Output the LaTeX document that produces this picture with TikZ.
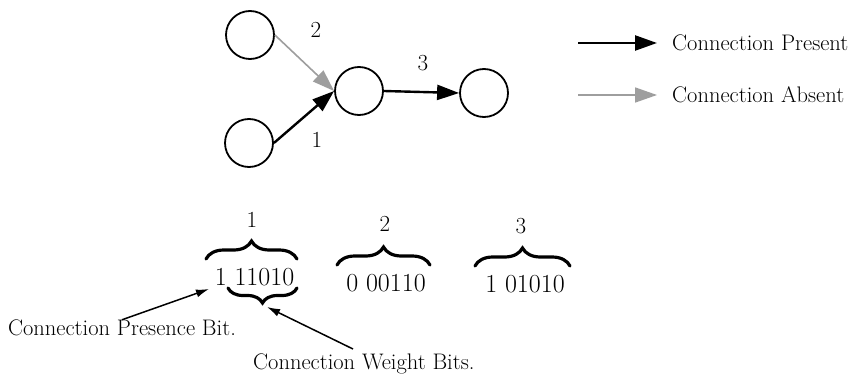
\documentclass[tikz,border=0pt]{standalone}
\usetikzlibrary{arrows.meta,decorations.pathreplacing}
\begin{document}
\begin{tikzpicture}[x=1pt,y=-1pt,
  neuron/.style={circle,draw,line width=1.8pt,minimum size=48pt,inner sep=0pt},
  conn/.style={line width=2.4pt,-{Triangle[length=22pt,width=15pt]}},
  absent/.style={line width=1.6pt,draw=black!38,-{Triangle[length=22pt,width=15pt,fill=black!38]}},
  lbl/.style={font=\fontsize{23}{26}\selectfont,inner sep=0pt},
  txt/.style={font=\fontsize{22.5}{26}\selectfont,inner sep=0pt},
  bits/.style={font=\fontsize{26}{30}\selectfont,inner sep=0pt},
  bigbrace/.style={decorate,decoration={brace,amplitude=18pt},line width=3.2pt,line cap=round},
  note/.style={line width=1.5pt,-{Latex[length=13pt,width=8pt]}}
]
\fill[white] (0,0) rectangle (856,377);
\useasboundingbox (0,0) rectangle (856,377);
% network
\node[neuron] (n2) at (250,35) {};
\node[neuron] (n1) at (249,143) {};
\node[neuron] (h) at (359,91) {};
\node[neuron] (o) at (484,93) {};
\draw[absent] (n2.east) -- (h.west);
\draw[conn] (n1.east) -- (h.west);
\draw[conn] (h.east) -- (o.west);
\node[lbl] (l2) at (316,30) {2};
\node[lbl] (l3) at (423,63) {3};
\node[lbl] (l1) at (317,140) {1};
% legend
\coordinate (pa) at (578,43);
\coordinate (pb) at (657,43);
\draw[conn] (pa) -- (pb);
\node[txt,anchor=west] (tp) at (672,43) {Connection Present};
\coordinate (aa) at (578,95);
\coordinate (ab) at (657,95);
\draw[absent] (aa) -- (ab);
\node[txt,anchor=west] (ta) at (672,95) {Connection Absent};
% genes
\coordinate (b1l) at (206,259); \coordinate (b1r) at (297,259);
\coordinate (b2l) at (337,265); \coordinate (b2r) at (430,265);
\coordinate (b3l) at (475,266); \coordinate (b3r) at (570,266);
\draw[bigbrace] (b1l) -- (b1r);
\draw[bigbrace] (b2l) -- (b2r);
\draw[bigbrace] (b3l) -- (b3r);
\node[lbl] (g1) at (252,220) {1};
\node[lbl] (g2) at (385,224) {2};
\node[lbl] (g3) at (521,226) {3};
\node[bits] (s1) at (254.5,277) {1 11010};
\node[bits] (s2) at (386,283) {0 00110};
\node[bits] (s3) at (525,284) {1 01010};
\coordinate (u1) at (297,288); \coordinate (u2) at (228,288);
\draw[bigbrace,decoration={amplitude=15pt}] (u1) -- (u2);
% annotations
\node[txt] (pt) at (122,328) {Connection Presence Bit.};
\coordinate (pe) at (209,289);
\draw[note] (pt.north) -- (pe);
\node[txt,anchor=west] (wt) at (253,364) {Connection Weight Bits.};
\coordinate (ws) at (353,349);
\coordinate (we) at (267,307);
\draw[note] (ws) -- (we);
\end{tikzpicture}
\end{document}
